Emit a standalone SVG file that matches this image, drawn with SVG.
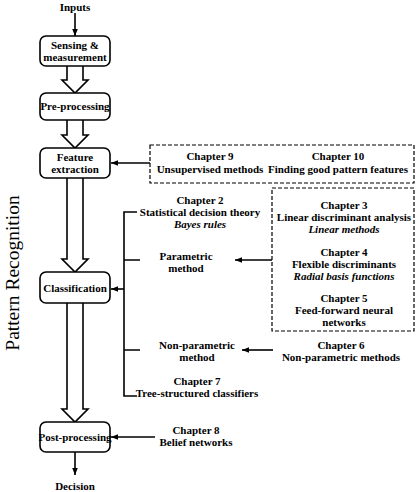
<svg xmlns="http://www.w3.org/2000/svg" width="417" height="492" viewBox="0 0 417 492">
<defs>
<marker id="ah" viewBox="0 0 10 10" refX="10" refY="5" markerWidth="7" markerHeight="7" markerUnits="userSpaceOnUse" orient="auto">
<path d="M0,1 L10,5 L0,9 Z" fill="#000"/>
</marker>
<style>
.node{fill:#fff;stroke:#000;stroke-width:1.6}
.hollow{fill:#fff;stroke:#000;stroke-width:1.6;stroke-linejoin:miter}
.dash{fill:none;stroke:#000;stroke-width:1.2;stroke-dasharray:4,2}
.ln{fill:none;stroke:#000;stroke-width:1.6}
.arr{fill:none;stroke:#000;stroke-width:1.6;marker-end:url(#ah)}
.it{font-style:italic}
</style>
</defs>
<rect width="417" height="492" fill="#fff"/>
<text font-family="Liberation Serif, DejaVu Serif, Times New Roman, serif" font-size="19.5" text-anchor="middle" transform="translate(19,273) rotate(-90)">Pattern Recognition</text>

<g id="connectors">
<line class="arr" x1="75" y1="13" x2="75" y2="36"/>
<path class="hollow" d="M67,66 L67,80 L62,80 L75,93 L88,80 L83,80 L83,66"/>
<path class="hollow" d="M67,120 L67,135 L62,135 L75,148 L88,135 L83,135 L83,120"/>
<path class="hollow" d="M67,178 L67,259 L62,259 L75,272 L88,259 L83,259 L83,178"/>
<path class="hollow" d="M67,303 L67,409 L62,409 L75,422 L88,409 L83,409 L83,303"/>
<line class="arr" x1="75" y1="452" x2="75" y2="475"/>
<line class="arr" x1="150" y1="163" x2="111" y2="163"/>
<path class="ln" d="M137,212 L124,212 L124,396 L137,396 M124,260 L140,260 M124,350 L140,350"/>
<line class="arr" x1="124" y1="289" x2="111" y2="289"/>
<line class="arr" x1="272" y1="260" x2="235" y2="260"/>
<line class="arr" x1="273" y1="350" x2="242" y2="350"/>
<line class="arr" x1="155" y1="437" x2="111" y2="437"/>
</g>

<g font-family="Liberation Serif, DejaVu Serif, Times New Roman, serif" font-size="11" font-weight="bold" text-anchor="middle" fill="#000">
<g id="inputs"><text x="75" y="11">Inputs</text></g>
<g id="sensing">
<rect class="node" x="40" y="36" width="70" height="30" rx="6"/>
<text x="75" y="49">Sensing &amp;</text>
<text x="75" y="61">measurement</text>
</g>
<g id="preprocessing">
<rect class="node" x="40" y="93" width="70" height="27" rx="6"/>
<text x="75" y="110">Pre-processing</text>
</g>
<g id="feature">
<rect class="node" x="40" y="148" width="70" height="30" rx="6"/>
<text x="75" y="161">Feature</text>
<text x="75" y="173">extraction</text>
</g>
<g id="classification">
<rect class="node" x="40" y="272" width="70" height="31" rx="6"/>
<text x="75" y="292">Classification</text>
</g>
<g id="postprocessing">
<rect class="node" x="40" y="422" width="70" height="30" rx="6"/>
<text x="75" y="441">Post-processing</text>
</g>
<g id="decision"><text x="75" y="490">Decision</text></g>

<g id="ch9-10">
<rect class="dash" x="150" y="145" width="264" height="38"/>
<text x="210" y="160">Chapter 9</text>
<text x="210" y="173">Unsupervised methods</text>
<text x="338" y="160">Chapter 10</text>
<text x="338" y="173">Finding good pattern features</text>
</g>
<g id="ch2">
<text x="200" y="204">Chapter 2</text>
<text x="200" y="216">Statistical decision theory</text>
<text x="200" y="228" class="it">Bayes rules</text>
</g>
<g id="parametric">
<text x="186" y="260">Parametric</text>
<text x="186" y="272">method</text>
</g>
<g id="ch3-5">
<rect class="dash" x="272" y="188" width="142" height="143"/>
<text x="344" y="209">Chapter 3</text>
<text x="344" y="221">Linear discriminant analysis</text>
<text x="344" y="233" class="it">Linear methods</text>
<text x="344" y="256">Chapter 4</text>
<text x="344" y="268">Flexible discriminants</text>
<text x="344" y="280" class="it">Radial basis functions</text>
<text x="344" y="302">Chapter 5</text>
<text x="344" y="314">Feed-forward neural</text>
<text x="344" y="326">networks</text>
</g>
<g id="nonparametric">
<text x="197" y="349">Non-parametric</text>
<text x="197" y="361">method</text>
</g>
<g id="ch6">
<text x="341" y="349">Chapter 6</text>
<text x="341" y="361">Non-parametric methods</text>
</g>
<g id="ch7">
<text x="197" y="385">Chapter 7</text>
<text x="197" y="397">Tree-structured classifiers</text>
</g>
<g id="ch8">
<text x="196" y="434">Chapter 8</text>
<text x="196" y="446">Belief networks</text>
</g>
</g>
</svg>
